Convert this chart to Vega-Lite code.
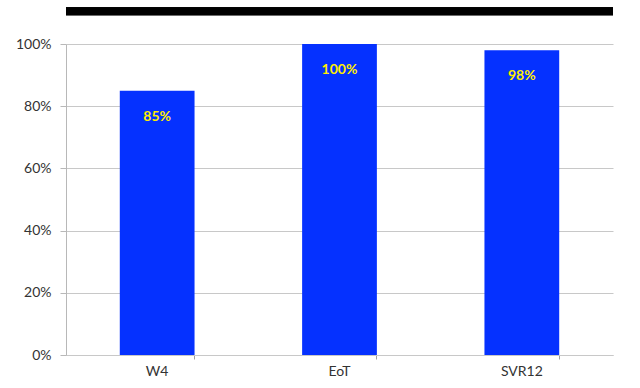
{
  "$schema": "https://vega.github.io/schema/vega-lite/v6.json",
  "autosize": {"type": "none"},
  "width": 547,
  "height": 311,
  "padding": {"left": 66, "top": 44, "right": 27, "bottom": 33},
  "background": "white",
  "config": {
    "view": {"stroke": null},
    "font": "Lato",
    "axis": {"labelFont": "Lato", "labelColor": "#333333", "labelFontSize": 14}
  },
  "data": {"values": [
    {"time": "W4", "rate": 0.85, "label": "85%"},
    {"time": "EoT", "rate": 1.0, "label": "100%"},
    {"time": "SVR12", "rate": 0.98, "label": "98%"}
  ]},
  "layer": [
    {
      "mark": {"type": "bar", "color": "#0531FF"},
      "encoding": {
        "x": {"field": "time", "type": "nominal", "sort": null, "title": null,
          "scale": {"paddingInner": 0.59, "paddingOuter": 0.295},
          "axis": {"orient": "bottom", "labelAngle": 0, "ticks": false, "domain": false, "labelPadding": 9}},
        "y": {"field": "rate", "type": "quantitative", "title": null,
          "scale": {"domain": [0, 1]},
          "axis": {"format": ".0%", "values": [0, 0.2, 0.4, 0.6, 0.8, 1.0],
            "gridColor": "#c8c8c8", "gridWidth": 1, "domainColor": "#b8b8b8",
            "tickColor": "#b8b8b8", "tickSize": 6, "labelPadding": 9}}
      }
    },
    {
      "mark": {"type": "tick", "opacity": 0},
      "encoding": {
        "x": {"field": "time", "type": "nominal", "sort": null, "title": null,
          "axis": {"orient": "bottom", "bandPosition": 1, "labels": false, "ticks": true, "tickSize": 4,
            "tickColor": "#a0a0a0", "domainColor": "#c8c8c8", "grid": false}},
        "y": {"field": "rate", "type": "quantitative"}
      }
    },
    {
      "mark": {"type": "text", "color": "#FFEE00", "fontWeight": "bold", "fontSize": 14, "dy": 26, "baseline": "middle"},
      "encoding": {
        "x": {"field": "time", "type": "nominal", "sort": null, "axis": null},
        "y": {"field": "rate", "type": "quantitative"},
        "text": {"field": "label", "type": "nominal"}
      }
    },
    {
      "mark": {"type": "rule", "color": "black", "strokeWidth": 8, "clip": false},
      "encoding": {
        "y": {"datum": 1.105, "type": "quantitative"}
      }
    }
  ],
  "resolve": {"axis": {"x": "independent"}}
}
